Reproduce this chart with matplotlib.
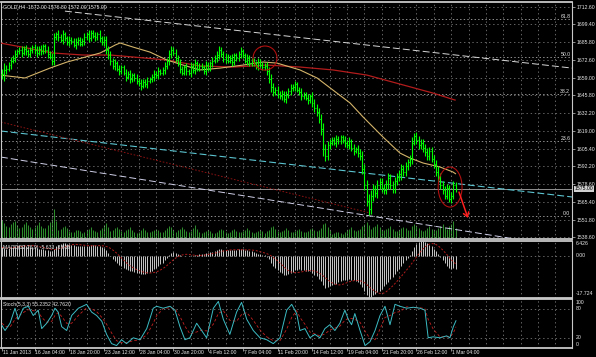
import numpy as np
import pandas as pd
import matplotlib
matplotlib.use("Agg")
import matplotlib.pyplot as plt
from matplotlib.collections import LineCollection
from matplotlib.patches import Ellipse, FancyArrowPatch

plt.rcParams['lines.scale_dashes'] = False
plt.rcParams['font.family'] = ['Liberation Sans', 'DejaVu Sans']

# ---------------- data (H4 bars, index 0 = 11 Jan 2013 16:00) ----------------
closes = [
 1662, 1665,
 1666, 1669, 1672, 1674, 1677, 1679,
 1680, 1678, 1681, 1679, 1677, 1680,
 1682, 1680, 1678, 1681, 1679, 1683,
 1680, 1677, 1675, 1672, 1690, 1692,
 1690, 1688, 1692, 1689, 1686, 1688,
 1687, 1684, 1686, 1688, 1685, 1687,
 1690, 1692, 1689, 1693, 1691, 1690,
 1692, 1689, 1686, 1688, 1680, 1676,
 1672, 1668, 1670, 1666, 1664, 1667,
 1663, 1660, 1662, 1658, 1661, 1659,
 1657, 1655, 1653, 1656, 1654, 1657,
 1658, 1660, 1662, 1661, 1664, 1663,
 1665, 1668, 1672, 1677, 1680, 1678,
 1674, 1670, 1666, 1663, 1667, 1664,
 1663, 1668, 1665, 1670, 1666, 1668,
 1667, 1664, 1669, 1666, 1670, 1672,
 1674, 1676, 1680, 1677, 1673, 1675,
 1672, 1674, 1671, 1676, 1674, 1677,
 1679, 1676, 1672, 1674, 1670, 1672,
 1670, 1668, 1671, 1669, 1667, 1668,
 1664, 1658, 1652, 1648, 1650, 1647,
 1645, 1647, 1643, 1646, 1649, 1651,
 1652, 1654, 1650, 1648, 1645, 1646,
 1644, 1642, 1645, 1640, 1636, 1633,
 1628, 1620, 1605, 1600, 1608, 1610,
 1612, 1610, 1613, 1611, 1614, 1612,
 1610, 1608, 1611, 1606, 1604, 1605,
 1602, 1600, 1590, 1578, 1566, 1560,
 1570, 1575, 1572, 1578, 1580, 1576,
 1574, 1579, 1583, 1578, 1575, 1581,
 1584, 1586, 1590, 1588, 1592, 1595,
 1598, 1610, 1615, 1612, 1608, 1610,
 1606, 1603, 1600, 1604, 1598, 1594,
 1588, 1584, 1578, 1574, 1570, 1576,
 1567, 1570, 1578, 1575,
]

wick = [
 4, 5,
 3, 2, 3, 2, 3, 2,
 2, 3, 2, 3, 2, 2,
 2, 3, 3, 2, 3, 2,
 2, 3, 2, 3, 3, 2,
 3, 2, 3, 2, 2, 3,
 2, 2, 3, 2, 2, 2,
 3, 2, 3, 2, 2, 3,
 2, 3, 2, 3, 3, 3,
 3, 2, 3, 2, 3, 2,
 2, 3, 2, 3, 2, 2,
 3, 2, 3, 2, 2, 3,
 2, 2, 3, 2, 3, 2,
 2, 3, 2, 3, 3, 2,
 3, 2, 3, 2, 2, 3,
 2, 3, 2, 3, 2, 2,
 2, 2, 3, 2, 2, 3,
 2, 3, 3, 2, 2, 3,
 2, 2, 3, 2, 2, 2,
 3, 2, 2, 3, 2, 2,
 2, 2, 3, 2, 2, 2,
 3, 3, 4, 3, 2, 3,
 2, 3, 2, 3, 2, 3,
 2, 3, 2, 2, 3, 2,
 2, 3, 2, 3, 3, 3,
 3, 4, 5, 4, 3, 3,
 2, 2, 3, 2, 2, 2,
 3, 2, 3, 2, 3, 2,
 3, 3, 4, 4, 4, 5,
 4, 4, 3, 4, 3, 3,
 3, 3, 4, 3, 3, 3,
 3, 3, 4, 3, 3, 3,
 3, 4, 2, 3, 3, 3,
 3, 3, 3, 3, 3, 3,
 3, 4, 3, 3, 3, 3,
 2, 3, 3, 2,
]

volumes = [
 6500, 5500,
 4500, 4000, 5000, 5800, 6200, 4800,
 3800, 4200, 5200, 5800, 4800, 4200,
 3500, 4000, 4800, 5600, 4400, 3600,
 3800, 4600, 5600, 6800, 10000, 6000,
 3200, 3400, 4000, 4500, 3600, 2800,
 2200, 2400, 2900, 3200, 2600, 2100,
 2400, 2900, 3500, 4200, 3200, 2600,
 2500, 3000, 3600, 4600, 5400, 3900,
 2800, 3200, 3700, 4100, 3400, 2700,
 2400, 2900, 3500, 3900, 3200, 2500,
 2100, 2500, 3100, 3700, 3100, 2500,
 2200, 2600, 3100, 3500, 2900, 2400,
 2400, 2900, 3600, 4300, 3900, 3000,
 2500, 2900, 3500, 3900, 3300, 2600,
 2300, 2800, 3700, 4600, 3400, 2500,
 2000, 2300, 2700, 3200, 2600, 2100,
 2100, 2500, 3200, 3500, 2900, 2300,
 2000, 2400, 2900, 3300, 2700, 2200,
 2200, 2600, 3200, 3700, 3000, 2300,
 2100, 2400, 2800, 3200, 2600, 2000,
 2600, 3200, 4000, 4300, 3400, 2700,
 2300, 2700, 3200, 3700, 3000, 2400,
 2200, 2600, 3100, 3500, 2800, 2200,
 2300, 2800, 3400, 3800, 3200, 2600,
 3000, 3800, 5000, 5400, 4000, 3000,
 1800, 2000, 2300, 2500, 2100, 1700,
 2500, 2900, 3400, 3900, 3200, 2600,
 2900, 3400, 4400, 5200, 5800, 4800,
 3500, 4000, 4500, 4900, 4000, 3200,
 2900, 3400, 3800, 4300, 3500, 2800,
 2700, 3100, 3700, 4200, 3600, 3000,
 3200, 4300, 5100, 4500, 3600, 3000,
 2800, 3200, 3800, 4300, 3500, 2900,
 3200, 3800, 4500, 4900, 4200, 3500,
 4500, 5200, 6000, 3800,
]

macd_hist = [
 3.5, 3.2, 3.0, 3.2, 3.6, 4.0,
 4.3, 4.5, 4.6, 4.6, 4.5, 4.3,
 4.0, 3.8, 3.7, 3.5, 3.2, 3.0,
 2.8, 2.7, 2.6, 2.4, 2.1, 1.8,
 3.0, 4.0, 4.6, 4.9, 5.2, 5.2,
 5.0, 4.9, 4.7, 4.4, 4.2, 4.1,
 3.9, 3.9, 4.1, 4.3, 4.3, 4.5,
 4.4, 4.4, 4.3, 4.0, 3.6, 3.4,
 2.4, 1.3, 0.0, -1.3, -2.1, -3.1,
 -4.0, -4.4, -5.1, -5.8, -6.0, -6.6,
 -6.7, -7.0, -7.2, -7.5, -7.8, -7.6,
 -7.7, -7.4, -7.0, -6.4, -5.7, -5.1,
 -4.2, -3.6, -2.9, -2.0, -0.9, 0.3,
 1.2, 1.5, 1.3, 0.9, 0.3, -0.1,
 0.0, -0.2, -0.3, 0.0, -0.1, 0.3,
 0.3, 0.6, 0.7, 0.7, 1.0, 1.1,
 1.4, 1.7, 2.0, 2.3, 2.8, 2.9,
 2.6, 2.6, 2.4, 2.4, 2.2, 2.5,
 2.5, 2.7, 2.9, 2.8, 2.4, 2.3,
 1.9, 1.8, 1.4, 1.0, 0.9, 0.6,
 0.3, 0.2, -0.4, -1.6, -3.0, -4.4,
 -5.2, -6.2, -7.0, -7.4, -8.0, -8.1,
 -7.9, -7.4, -6.8, -6.1, -5.9, -5.8,
 -6.0, -6.0, -6.3, -6.7, -6.7, -7.3,
 -8.0, -8.8, -9.8, -10.9, -12.6, -13.6,
 -13.4, -13.0, -12.6, -12.2, -11.8, -11.3,
 -10.8, -10.5, -10.3, -10.2, -10.0, -10.2,
 -10.5, -10.8, -11.2, -11.8, -13.2, -15.0,
 -16.8, -17.724, -17.4, -16.8, -16.4, -15.6,
 -14.8, -14.0, -13.0, -12.0, -11.0, -10.0,
 -9.0, -7.8, -6.6, -5.5, -4.3, -3.2,
 -2.0, -0.9, 0.3, 2.0, 3.6, 4.8,
 5.6, 6.426, 6.2, 5.8, 5.2, 4.6,
 3.9, 3.0, 1.8, 0.6, -0.6, -1.8,
 -3.0, -4.2, -5.3, -5.8, -5.4, -5.633,
]

ma_fast_bars = [-0.9, 10.6, 22.1, 30.0, 45.2, 52.1, 54.4, 60.4, 68.2, 76.0, 83.4, 91.2, 100.5, 111.1,
                120.3, 126.7, 137.3, 145.2, 152.5, 160.4, 166.4, 175.6, 183.4, 188.0, 194.0, 201.8, 207.8, 209.0]
ma_fast_vals = [1661.1, 1658.9, 1666.4, 1671.0, 1677.8, 1683.8, 1685.4, 1682.3, 1678.5, 1672.5, 1668.7, 1665.0, 1666.4, 1668.7,
                1671.0, 1670.2, 1665.0, 1658.9, 1649.8, 1640.0, 1629.4, 1614.2, 1602.1, 1598.4, 1594.6, 1591.6, 1587.8, 1586.5]

ma_slow_bars = [-0.9, 11.5, 23.5, 37.3, 49.8, 60.4, 76.0, 91.2, 106.5, 122.1, 137.3, 152.5, 168.2, 183.4, 198.6, 208.8]
ma_slow_vals = [1685.4, 1681.6, 1677.8, 1676.3, 1676.3, 1674.8, 1672.5, 1668.0, 1667.2, 1668.7, 1667.2, 1665.0, 1661.1, 1654.3, 1647.5, 1642.2]

stoch_bars = [0, 1.4, 3.7, 6, 7.5, 9.8, 12.1, 14.4, 16.7, 18.3, 20.6, 22.9, 24.4, 25.9, 27.5, 29.8, 32.1, 35.2, 39, 41.3,
              43.6, 46, 48.2, 50.5, 52.8, 55.1, 57.4, 60.5, 63.6, 66.7, 69.7, 71.3, 74.3, 77.4, 79.7, 82, 84.3, 86.6, 89.7, 92,
              94.3, 97.4, 99.7, 102, 105, 108.1, 110.4, 112.8, 115.8, 118.9, 122, 125, 128.1, 131.2, 133.5, 135.8, 137.3,
              139.6, 141.9, 144.2, 146.5, 148.8, 151.1, 153.4, 155.7, 158, 159.6, 161.1, 162.6, 165, 167.3, 169.6, 171.9,
              174.2, 176.5, 178.8, 181.1, 183.4, 186.5, 189.5, 192.6, 194.9, 196.4, 198.7, 201.8, 204.9, 206.4, 208, 209.2]
stoch_main = [45, 35, 50, 81, 58, 81, 85, 66, 77, 39, 50, 66, 81, 73, 43, 35, 66, 81, 89, 73,
              66, 54, 27, 8, 4, 16, 8, 20, 16, 39, 81, 85, 81, 85, 77, 43, 16, 20, 50, 35,
              20, 81, 95, 58, 27, 73, 93, 58, 35, 20, 16, 8, 20, 77, 89, 70, 35,
              39, 20, 27, 20, 39, 47, 35, 50, 77, 58, 47, 70, 35, 4, 12, 35,
              66, 85, 47, 89, 85, 81, 83, 81, 77, 20, 22, 20, 24, 20, 43, 55.2]
stoch_signal = [50, 44, 42, 58, 65, 72, 78, 76, 74, 62, 52, 54, 66, 72, 64, 50, 50, 66, 82, 80,
                74, 62, 48, 30, 14, 10, 10, 14, 16, 26, 50, 66, 80, 82, 80, 64, 44, 28, 32, 36,
                34, 48, 70, 76, 56, 54, 68, 72, 56, 36, 22, 14, 14, 38, 62, 76, 62,
                48, 32, 28, 24, 28, 36, 40, 44, 56, 60, 60, 58, 52, 34, 18, 16,
                38, 62, 66, 72, 74, 84, 82, 82, 80, 58, 38, 22, 22, 22, 30, 42.8]

price_ticks = [1712.60, 1699.40, 1685.80, 1672.60, 1659.00, 1645.80, 1632.20,
               1619.00, 1605.40, 1592.20, 1578.60, 1565.40, 1551.80, 1538.60]
date_bars = [0, 15, 31, 47, 63, 79, 95, 111, 127, 143, 159, 175, 191, 207]
date_labels = ["11 Jan 2013", "16 Jan 04:00", "18 Jan 20:00", "23 Jan 12:00", "28 Jan 04:00",
               "30 Jan 20:00", "4 Feb 12:00", "7 Feb 04:00", "11 Feb 20:00", "14 Feb 12:00",
               "19 Feb 04:00", "21 Feb 20:00", "26 Feb 12:00", "1 Mar 04:00"]

fib_low, fib_high = 1554.6, 1795.7
fib_levels = [0.0, 23.6, 38.2, 50.0, 61.8]
bid_price = 1575.00

# trend lines: (bar, price) endpoints
trend_upper = ([29.0, 262.7], [1709.5, 1666.4])
trend_cyan = ([-0.5, 262.7], [1618.8, 1568.9])
trend_mid = ([-0.5, 169.6], [1625.6, 1556.8])
trend_lower = ([-0.5, 236.4], [1599.1, 1537.1])

# hand-drawn annotations (bar, price)
circle1 = (121.2, 1674.0, 11.0, 18.2)
circle2 = (206.5, 1576.4, 11.0, 30.3)
arrow_from = (210.6, 1572.6)
arrow_to = (214.7, 1553.0)

macd_max, macd_min = 6.426, -17.724

# ---------------- layout ----------------
W, H = 596, 357
X_LO, X_HI = -0.46, 262.67
MAIN_YLIM = (1537.1, 1716.4)
GRID = '#8c8c8c'
TXT = '#e8e8e8'
FS = 3.7


def fig_box(x0, y0, x1, y1):
    return [x0 / W, 1 - y1 / H, (x1 - x0) / W, (y1 - y0) / H]


fig = plt.figure(figsize=(W / 100, H / 100), dpi=100, facecolor='black')

ax_vol = fig.add_axes(fig_box(1, 2, 572, 239))
ax_main = fig.add_axes(fig_box(1, 2, 572, 239))
ax_macd = fig.add_axes(fig_box(1, 240.5, 572, 297.5))
ax_st = fig.add_axes(fig_box(1, 299, 572, 347.5))

grid_bars = np.arange(7, X_HI, 8)

for ax in (ax_main, ax_macd, ax_st):
    ax.set_facecolor('none')
    ax.set_xlim(X_LO, X_HI)
    for s in ax.spines.values():
        s.set_color('#c8c8c8')
        s.set_linewidth(0.8)
    ax.spines['top'].set_linewidth(1.3)
    ax.spines['bottom'].set_linewidth(1.3)
    ax.tick_params(left=False, bottom=False, labelleft=False, labelbottom=False)
    for b in grid_bars:
        ax.axvline(b, color=GRID, lw=0.5, ls=(0, (1, 2)), zorder=0)

# volume layer
n = len(closes)
idx = np.arange(n)
ax_vol.set_facecolor('black')
ax_vol.set_xlim(X_LO, X_HI)
ax_vol.set_ylim(0, 80000)
ax_vol.axis('off')
ax_vol.vlines(idx, 0, volumes[:n], color='#2c8c2c', lw=0.75)

# main price panel
ax_main.set_ylim(*MAIN_YLIM)
for p in price_ticks:
    ax_main.axhline(p, color=GRID, lw=0.5, ls=(0, (1, 2)), zorder=0)
ax_main.yaxis.tick_right()
ax_main.set_yticks(price_ticks)
ax_main.set_yticklabels([f"{p:.2f}" for p in price_ticks])
ax_main.tick_params(axis='y', right=True, labelright=True, length=2, width=0.5, color='#c8c8c8',
                    pad=1.5, labelsize=FS, labelcolor=TXT)

# fibonacci levels
for lv in fib_levels:
    fp = fib_low + (fib_high - fib_low) * lv / 100.0
    ax_main.axhline(fp, color='#b8b8b8', lw=0.55, ls=(0, (1, 1.6)), zorder=1)
    ax_main.text(0.997, fp, f"{lv:.1f}", transform=ax_main.get_yaxis_transform(), ha='right',
                 va='bottom', fontsize=FS, color=TXT)

# bid line
ax_main.axhline(bid_price, color='#a8a8a8', lw=0.6, zorder=1)
ax_main.text(1.004, bid_price, f"{bid_price:.2f}", transform=ax_main.get_yaxis_transform(),
             ha='left', va='center', fontsize=FS, color='black', clip_on=False,
             bbox=dict(boxstyle='square,pad=0.15', fc='#d0d0d0', ec='none'), zorder=10)

# trend lines
ax_main.plot(*trend_upper, color='#d8d8d8', lw=0.7, ls=(0, (5, 2.2)), zorder=2)
ax_main.plot(*trend_cyan, color='#5cc4d0', lw=0.8, ls=(0, (5, 2.2)), zorder=2)
ax_main.plot(*trend_mid, color='#8a1212', lw=0.7, ls=(0, (1.2, 1.2)), zorder=2)
ax_main.plot(*trend_lower, color='#cfcfe8', lw=0.7, ls=(0, (5, 2.2)), zorder=2)

# moving averages
ax_main.plot(ma_slow_bars, ma_slow_vals, color='#b31c1c', lw=0.9, zorder=3)
ax_main.plot(ma_fast_bars, ma_fast_vals, color='#d4b46a', lw=0.8, zorder=3)

# OHLC bars
c = np.array(closes, dtype=float)
o = np.concatenate([[c[0]], c[:-1]])
wk = np.array(wick[:n], dtype=float)
hi = np.maximum(o, c) + wk
lo = np.minimum(o, c) - wk
segs = []
for i in range(n):
    segs.append([(i, lo[i]), (i, hi[i])])
    segs.append([(i - 0.45, o[i]), (i, o[i])])
    segs.append([(i, c[i]), (i + 0.45, c[i])])
ax_main.add_collection(LineCollection(segs, colors='#00ff00', linewidths=0.8, zorder=4))

# annotations
ax_main.add_patch(Ellipse(circle1[:2], circle1[2], circle1[3], fill=False, ec='#b01010', lw=0.8, zorder=5))
ax_main.add_patch(Ellipse(circle2[:2], circle2[2], circle2[3], fill=False, ec='#b01010', lw=0.8, zorder=5))
ax_main.add_patch(FancyArrowPatch(arrow_from, arrow_to, arrowstyle='->,head_length=3,head_width=2',
                                  color='#ff2020', lw=1.1, zorder=6, shrinkA=0, shrinkB=0))

fig.text(3 / W, 1 - 6.5 / H, "GOLD,H4  1572.00 1576.80 1572.00 1575.00", fontsize=FS, color=TXT,
         ha='left', va='center')

# MACD panel
ax_macd.set_ylim(macd_min, macd_max)
ax_macd.axhline(0, color=GRID, lw=0.5, ls=(0, (1, 2)), zorder=0)
mh = np.array(macd_hist[:n], dtype=float)
ax_macd.vlines(idx, 0, mh, color='#c8c8c8', lw=0.7, zorder=2)
macd_sig = pd.Series(mh).rolling(9, min_periods=1).mean()
ax_macd.plot(idx, macd_sig, color='#b01c1c', lw=0.7, ls=(0, (1.5, 1.2)), zorder=3)
ax_macd.text(1.006, 0.985, f"{macd_max:.3f}", transform=ax_macd.transAxes, ha='left', va='top',
             fontsize=FS, color=TXT, clip_on=False)
ax_macd.text(1.006, 0.0, "0.00", transform=ax_macd.get_yaxis_transform(), ha='left', va='center',
             fontsize=FS, color=TXT, clip_on=False)
ax_macd.text(1.006, 0.02, f"{macd_min:.3f}", transform=ax_macd.transAxes, ha='left', va='bottom',
             fontsize=FS, color=TXT, clip_on=False)
ax_macd.text(0.004, 0.92, "MACD(12,26,9) -5.633 -3.616", transform=ax_macd.transAxes, ha='left',
             va='top', fontsize=FS, color=TXT)

# Stochastic panel
ax_st.set_ylim(0, 100)
for lv in (20, 80):
    ax_st.axhline(lv, color=GRID, lw=0.5, ls=(0, (1, 2)), zorder=0)
ax_st.plot(stoch_bars, stoch_signal, color='#c42020', lw=0.6, ls=(0, (2, 1.5)), zorder=2)
ax_st.plot(stoch_bars, stoch_main, color='#3cbcc4', lw=0.7, zorder=3)
ax_st.text(1.006, 0.985, "100", transform=ax_st.transAxes, ha='left', va='top', fontsize=FS, color=TXT)
ax_st.text(1.006, 80, "80", transform=ax_st.get_yaxis_transform(), ha='left', va='center', fontsize=FS, color=TXT)
ax_st.text(1.006, 20, "20", transform=ax_st.get_yaxis_transform(), ha='left', va='center', fontsize=FS, color=TXT)
ax_st.text(1.006, 0.02, "0", transform=ax_st.transAxes, ha='left', va='bottom', fontsize=FS, color=TXT)
ax_st.text(0.004, 0.93, "Stoch(5,3,3) 55.2352 42.7620", transform=ax_st.transAxes, ha='left',
           va='top', fontsize=FS, color=TXT)

# date axis
ax_st.set_xticks(date_bars)
ax_st.tick_params(axis='x', bottom=True, length=2, width=0.5, color='#c8c8c8', labelbottom=False)
for b, lab in zip(date_bars, date_labels):
    ax_st.text(b + 0.4, -0.095, lab, transform=ax_st.get_xaxis_transform(), ha='left', va='center',
               fontsize=FS, color=TXT, clip_on=False)

fig.savefig('out.png', dpi=100, facecolor='black')
